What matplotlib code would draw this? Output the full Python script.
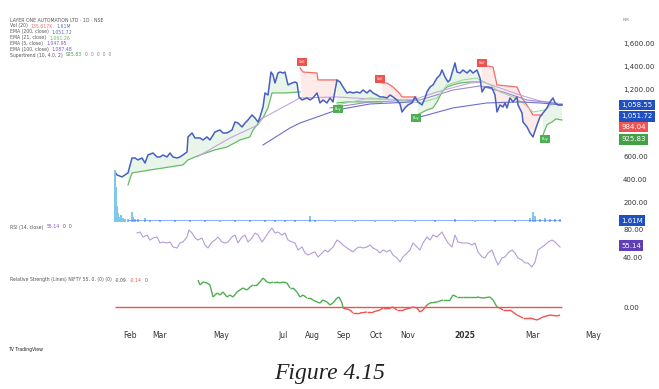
import numpy as np
import matplotlib.pyplot as plt
from matplotlib.collections import LineCollection

# ---- data (x = trading bar index) ----
price_x = [0, 2, 7, 10, 13, 17, 20, 23, 27, 30, 33, 38, 42, 45, 48, 52, 55, 58, 62, 65, 68, 72, 73, 77, 80, 85, 88, 92, 95, 100,
           105, 108, 112, 117, 120, 123, 127, 130, 133, 137, 140, 143, 145, 148, 150, 153, 156, 158, 160, 163, 165, 168, 170, 173,
           177, 180, 182, 184, 187, 192, 195, 198, 202, 205, 208, 212, 215, 218, 222, 225, 228, 232, 235, 238, 242, 245, 248, 252,
           255, 258, 262, 265, 268, 272, 275, 278, 282, 285, 287, 290, 293, 297, 300, 303, 307, 310, 312, 315, 318, 322, 325, 327,
           330, 333, 335, 338, 340, 342, 345, 348, 352, 355, 358, 362, 365, 367, 370, 373, 377, 380, 382, 385, 388, 390, 392, 395,
           398, 402, 403, 407, 408, 412, 415, 418, 422, 425, 428, 432, 435, 438, 440, 443, 445, 447]
price = [468, 441, 424, 441, 459, 591, 591, 574, 591, 547, 618, 635, 600, 600, 618, 600, 635, 600, 591, 600, 618, 644, 777, 812, 768, 768,
         750, 777, 750, 821, 838, 812, 812, 838, 909, 900, 865, 900, 927, 971, 944, 909, 953, 1041, 1165, 1147, 1350, 1324, 1253, 1341,
         1350, 1341, 1350, 1236, 1253, 1262, 1253, 1130, 1103, 1121, 1103, 1121, 1165, 1077, 1103, 1077, 1121, 1086, 1280, 1262, 1218,
         1165, 1174, 1165, 1174, 1165, 1191, 1165, 1191, 1165, 1147, 1130, 1130, 1121, 1147, 1130, 1103, 1068, 997, 1033, 1059, 1077,
         1130, 1086, 1059, 1121, 1174, 1218, 1236, 1297, 1324, 1368, 1306, 1262, 1280, 1368, 1430, 1350, 1341, 1368, 1341, 1368, 1341,
         1368, 1297, 1174, 1218, 1218, 1209, 1147, 997, 1059, 1041, 1077, 1033, 1121, 1086, 1130, 1059, 988, 909, 865, 812, 777, 883,
         953, 988, 1033, 1086, 1121, 1077, 1059, 1059, 1058.55]

# supertrend legs: (trend, x list, value list)
st_legs = [
    ("up",   [13, 17, 35, 68, 73, 85, 100, 112, 125, 135, 138, 142, 145, 148, 153, 157, 170, 185],
             [353, 459, 485, 530, 574, 618, 662, 688, 750, 777, 838, 883, 927, 944, 1033, 1165, 1165, 1174]),
    ("down", [185, 188, 202, 203, 222], [1386, 1350, 1341, 1280, 1280]),
    ("up",   [222, 233, 267], [1077, 1086, 1086]),
    ("down", [267, 272, 278, 285, 287, 298, 301], [1253, 1253, 1218, 1156, 1130, 1130, 1130]),
    ("up",   [302, 312, 318, 322, 327, 332, 338, 345, 355, 366], [971, 1015, 1033, 1086, 1174, 1218, 1236, 1253, 1262, 1262]),
    ("down", [367, 378, 382, 402, 407, 412, 418, 427], [1412, 1394, 1236, 1218, 1121, 1059, 971, 971]),
    ("up",   [428, 432, 437, 441, 447], [794, 883, 909, 936, 926]),
]
sell_x, sell_y = [187, 265, 367], [1439, 1289, 1430]
buy_x, buy_y = [223, 301, 430], [1024, 944, 759]

ema_long_a_x, ema_long_a = [148, 175, 185, 222, 255, 298], [706, 856, 900, 1015, 1068, 1086]
ema_long_b_x, ema_long_b = [305, 338, 372, 405, 425, 447], [953, 1033, 1077, 1086, 1077, 1059]
ema_mid_x = [82, 115, 143, 148, 185, 222, 255, 298, 322, 355, 368, 385, 405, 425, 447]
ema_mid = [600, 768, 883, 944, 1121, 1130, 1112, 1103, 1174, 1253, 1262, 1209, 1147, 1094, 1068]
ema_slow_x = [215, 255, 305, 338, 365, 388, 412, 447]
ema_slow = [1033, 1086, 1103, 1191, 1227, 1174, 1103, 1068]
ema21_x = [222, 255, 285, 305, 322, 332, 348, 362, 375, 385, 398, 408, 418, 430, 438, 447]
ema21 = [1059, 1121, 1103, 1077, 1121, 1236, 1280, 1297, 1236, 1174, 1130, 1077, 997, 1015, 1077, 1068]

vol_x = [0, 1, 2, 3, 4, 6, 8, 10, 13, 17, 18, 20, 23, 30, 35, 45, 60, 75, 90, 105, 120, 135, 150, 160, 170, 180, 195, 200,
         220, 240, 260, 280, 300, 320, 340, 360, 380, 400, 415, 418, 420, 425, 430, 435, 440, 445]
vol_m = [30, 20, 9, 5, 3, 4, 2.5, 2, 2, 5.5, 3, 2, 1.5, 2.5, 1.2, 1, 0.9, 0.9, 1, 0.8, 0.9, 1, 1.3, 1.1, 1.2, 1, 3.5, 1,
         0.8, 0.7, 0.8, 0.7, 0.7, 0.9, 1.5, 0.8, 0.9, 1.2, 2.5, 6, 3.5, 2, 2.5, 1.8, 1.5, 1.61]

rsi_x = [22, 25, 28, 32, 35, 38, 42, 45, 48, 52, 55, 58, 62, 65, 68, 72, 74, 77, 80, 83, 87, 90, 93, 97, 100, 103, 107, 110, 113,
         117, 120, 123, 127, 130, 133, 137, 140, 143, 147, 150, 153, 157, 160, 163, 167, 170, 173, 177, 180, 183, 187, 190, 193, 197,
         200, 203, 207, 210, 213, 215, 218, 222, 225, 228, 232, 235, 238, 242, 245, 248, 252, 255, 258, 262, 265, 268, 272, 275, 278,
         282, 285, 288, 292, 295, 298, 302, 305, 308, 312, 315, 318, 322, 327, 330, 333, 337, 340, 343, 347, 350, 353, 357, 360, 363,
         367, 370, 373, 377, 380, 383, 387, 390, 393, 397, 400, 403, 407, 410, 413, 417, 420, 423, 427, 430, 433, 437, 440, 443, 445]
rsi = [74.5, 75.9, 69.0, 71.7, 64.8, 67.6, 69.0, 60.7, 62.1, 60.7, 62.1, 55.2, 53.8, 60.7, 62.1, 69.0, 78.6, 74.5, 67.6, 64.8,
       67.6, 57.9, 53.8, 62.1, 64.8, 69.0, 62.1, 60.7, 62.1, 69.0, 71.7, 60.7, 69.0, 71.7, 62.1, 67.6, 74.5, 71.7, 62.1, 67.6, 74.5,
       81.4, 74.5, 75.9, 71.7, 74.5, 64.8, 62.1, 60.7, 51.0, 55.2, 46.9, 44.1, 46.9, 48.3, 41.4, 46.9, 51.0, 48.3, 51.0, 55.2, 64.8,
       62.1, 57.9, 53.8, 51.0, 48.3, 53.8, 55.2, 53.8, 55.2, 57.9, 53.8, 51.0, 46.9, 51.0, 48.3, 51.0, 44.1, 40.0, 34.5, 41.4, 46.9,
       51.0, 60.7, 55.2, 51.0, 60.7, 69.0, 64.8, 71.7, 69.0, 75.9, 67.6, 60.7, 55.2, 71.7, 62.1, 60.7, 60.7, 60.7, 57.9, 60.7, 48.3,
       41.4, 40.0, 46.9, 51.0, 40.0, 30.3, 40.0, 41.4, 46.9, 51.0, 46.9, 40.0, 37.2, 33.1, 33.1, 27.6, 34.5, 51.0, 55.2, 57.9, 62.1,
       64.8, 62.1, 57.9, 55.14]

rs_x = [83, 85, 88, 92, 95, 98, 102, 105, 108, 112, 115, 118, 122, 125, 128, 132, 135, 138, 142, 145, 148, 152, 155, 158, 162,
        165, 168, 172, 175, 178, 182, 185, 188, 192, 195, 198, 202, 205, 208, 212, 215, 218, 222, 224, 227, 228, 235, 238, 245, 252,
        258, 265, 268, 275, 278, 282, 288, 295, 298, 302, 305, 308, 312, 315, 322, 328, 335, 338, 342, 348, 355, 362, 368, 375, 378,
        382, 385, 388, 395, 402, 408, 415, 422, 428, 435, 442, 445]
rs = [0.27, 0.22, 0.25, 0.24, 0.22, 0.10, 0.14, 0.12, 0.15, 0.10, 0.12, 0.10, 0.15, 0.17, 0.19, 0.17, 0.20, 0.22, 0.22, 0.25, 0.29,
      0.25, 0.24, 0.25, 0.25, 0.24, 0.25, 0.24, 0.19, 0.19, 0.15, 0.10, 0.12, 0.09, 0.09, 0.07, 0.05, 0.04, 0.07, 0.05, 0.02, 0.04,
      0.09, 0.10, 0.04, -0.01, -0.03, -0.06, -0.06, -0.05, -0.05, -0.03, -0.01, -0.01, 0.00, -0.03, -0.03, -0.01, 0.0, -0.01, -0.05,
      -0.03, 0.02, 0.04, 0.05, 0.07, 0.07, 0.12, 0.10, 0.10, 0.10, 0.10, 0.09, 0.10, 0.07, 0.0, -0.01, -0.03, -0.03, -0.08, -0.11,
      -0.11, -0.13, -0.10, -0.08, -0.09, -0.08]

month_pos = [15, 45, 106, 168, 197, 229, 261, 293, 350, 418, 478]
month_lab = ["Feb", "Mar", "May", "Jul", "Aug", "Sep", "Oct", "Nov", "2025", "Mar", "May"]

# ---- figure ----
W, H = 659, 389
fig = plt.figure(figsize=(W / 100, H / 100), dpi=100)
L, R = 5, 612


def pane(top, bottom):
    a = fig.add_axes([L / W, 1 - bottom / H, (R - L) / W, (bottom - top) / H])
    a.set_xlim(-110, 497)
    for s in a.spines.values():
        s.set_visible(False)
    a.tick_params(axis="both", length=0, labelsize=5, colors="#333333", pad=8)
    a.set_xticks([])
    return a


BLUE = "#4660c2"
GREEN = "#4caf50"
RED = "#ef5350"

ax = pane(8, 222)
# volume overlay (twinx moves the main ticks left, so set right ticks after it)
axv = ax.twinx()
axv.set_ylim(0, 123)
axv.set_xlim(-110, 497)
axv.axis("off")
axv.bar(vol_x, vol_m, width=1.3, color="#7fc8e8", linewidth=0)
axv.plot(vol_x[8:], [1.2] * len(vol_x[8:]), color="#2962ff", lw=0.6, alpha=0.6)

ax.yaxis.tick_right()
ax.set_ylim(26, 1915)
ax.set_yticks([200, 400, 600, 1200, 1400, 1600])
ax.set_yticklabels(["200.00", "400.00", "600.00", "1,200.00", "1,400.00", "1,600.00"])
ax.tick_params(axis="y", length=0, labelsize=5, colors="#333333", pad=8)

px = np.array(price_x)
pv = np.array(price)
for trend, xs, ys in st_legs:
    c = GREEN if trend == "up" else RED
    m = (px >= xs[0]) & (px <= xs[-1])
    poly_x = list(px[m]) + xs[::-1]
    poly_y = list(pv[m]) + ys[::-1]
    ax.fill(poly_x, poly_y, color=c, alpha=0.12, lw=0)
    ax.plot(xs, ys, color=c, lw=0.9, alpha=0.85)

ax.plot(ema_mid_x, ema_mid, color="#c3a6e0", lw=0.8)
ax.plot(ema_slow_x, ema_slow, color="#9d8ccf", lw=0.8)
ax.plot(ema21_x, ema21, color="#a5d6a7", lw=0.8)
ax.plot(ema_long_a_x, ema_long_a, color="#6a6fd0", lw=0.8)
ax.plot(ema_long_b_x, ema_long_b, color="#6a6fd0", lw=0.8)
ax.plot(price_x, price, color=BLUE, lw=1.1)

for x, y in zip(sell_x, sell_y):
    ax.text(x, y, "Sell", fontsize=2.5, color="white", ha="center", va="center",
            bbox=dict(boxstyle="square,pad=0.5", fc=RED, ec="none"))
for x, y in zip(buy_x, buy_y):
    ax.text(x, y, "Buy", fontsize=2.5, color="white", ha="center", va="center",
            bbox=dict(boxstyle="square,pad=0.5", fc=GREEN, ec="none"))

# price-scale value boxes (stacked like TradingView)
tags = [(price[-1], "1,058.55", "#1f4fc0", 0), (ema_long_b[-1], "1,051.72", "#1f4fc0", -8),
        (984.04, "984.04", "#f05350", -9.7), (925.83, "925.83", "#43a047", -13.7)]
for val, lab, col, off in tags:
    ax.annotate(lab, xy=(1.0, val), xycoords=("axes fraction", "data"), xytext=(6.5, off),
                textcoords="offset points", fontsize=5, color="white", va="center", ha="left",
                bbox=dict(boxstyle="square,pad=0.35", fc=col, ec="none"))
ax.annotate("1.61M", xy=(1.0, 60), xycoords=("axes fraction", "data"), xytext=(6.5, -2),
            textcoords="offset points", fontsize=5, color="white", va="center", ha="left",
            bbox=dict(boxstyle="square,pad=0.35", fc="#1f4fc0", ec="none"))
fig.text(623 / W, 1 - 20 / H, "INR", fontsize=3, color="#777777", va="center")

# RSI pane
ax2 = pane(222, 270)
ax2.yaxis.tick_right()
ax2.set_ylim(23.4, 89.7)
ax2.set_yticks([40, 80])
ax2.set_yticklabels(["40.00", "80.00"])
ax2.plot(rsi_x, rsi, color="#b39ddb", lw=0.8)
ax2.annotate("55.14", xy=(1.0, 55.14), xycoords=("axes fraction", "data"), xytext=(6.5, 1),
             textcoords="offset points", fontsize=5, color="white", va="center", ha="left",
             bbox=dict(boxstyle="square,pad=0.35", fc="#5e3fb5", ec="none"))

# relative strength pane
ax3 = pane(270, 325)
ax3.yaxis.tick_right()
ax3.set_ylim(-0.18, 0.37)
ax3.set_yticks([0])
ax3.set_yticklabels(["0.00"])
ax3.hlines(0, 0, 447, color=RED, lw=1.0)
pts = np.column_stack([rs_x, rs])
segs = np.stack([pts[:-1], pts[1:]], axis=1)
cols = [GREEN if (a + b) / 2 >= 0 else RED for a, b in zip(rs[:-1], rs[1:])]
ax3.add_collection(LineCollection(segs, colors=cols, linewidths=1.0))
ax3.set_xticks(month_pos)
ax3.set_xticklabels(month_lab)
ax3.tick_params(axis="x", pad=4, labelsize=5.5, colors="#333333")
for t in ax3.get_xticklabels():
    if t.get_text() == "2025":
        t.set_fontweight("bold")

# legends: pieces placed one after another by measured width
renderer = fig.canvas.get_renderer()


def legend_line(y, pieces):
    x = 10
    for txt, col in pieces:
        t = fig.text(x / W, 1 - y / H, txt, fontsize=3.3, color=col, va="center")
        x += t.get_window_extent(renderer).width + 3


GREY = "#555555"
legend_line(20, [("LAYER ONE AUTOMATION LTD · 1D · NSE", GREY)])
legend_line(26, [("Vol (20)", GREY), ("135.617K", "#e57373"), ("1.61M", "#5c6bc0")])
legend_line(32, [("EMA (200, close)", GREY), ("1,051.72", "#5c6bc0")])
legend_line(38, [("EMA (21, close)", GREY), ("1,061.26", "#66bb6a")])
legend_line(43, [("EMA (5, close)", GREY), ("1,047.95", "#7e57c2")])
legend_line(49, [("EMA (100, close)", GREY), ("1,087.48", "#7e57c2")])
legend_line(55, [("Supertrend (10, 4.0, 2)", GREY), ("925.83", "#43a047"), ("0  0  0  0  0", "#888888")])
legend_line(227, [("RSI (14, close)", GREY), ("55.14", "#7e57c2"), ("0  0", GREY)])
legend_line(280, [("Relative Strength (Lines) NIFTY 55, 0, (0) (0)", GREY), ("-0.09", GREY), ("-0.14", RED), ("0", GREY)])

fig.text(8 / W, 1 - 349 / H, "TV TradingView", fontsize=3.3, color="#222222", va="center")
fig.text(0.5, 1 - 374 / H, "Figure 4.15", fontsize=17, fontstyle="italic", family="Liberation Serif",
         ha="center", va="center", color="#222222")

fig.savefig("out.png", dpi=100, facecolor="white")
